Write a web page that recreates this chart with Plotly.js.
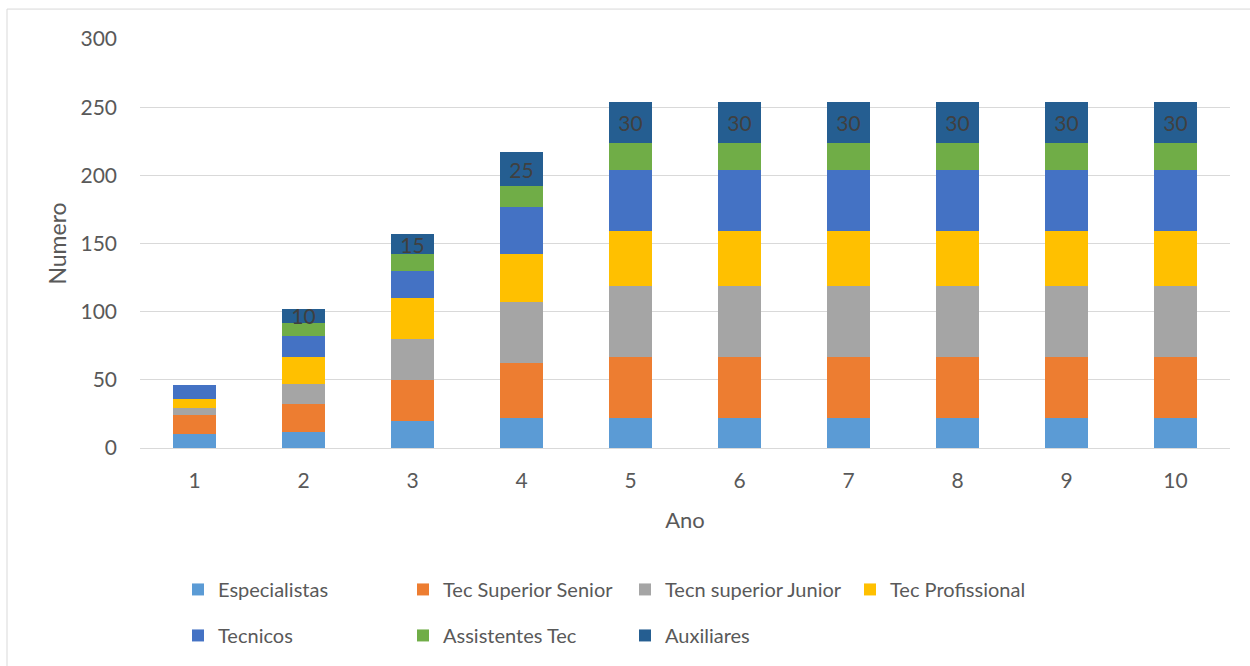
<!DOCTYPE html>
<html>
<head>
<meta charset="utf-8">
<script src="https://cdn.plot.ly/plotly-3.0.1.min.js"></script>
<style>html,body{margin:0;padding:0;background:#fff;}#chart{width:1250px;height:666px;}</style>
</head>
<body>
<div id="chart"></div>
<script>
const anos = ['1','2','3','4','5','6','7','8','9','10'];
const especialistas   = [10, 12, 20, 22, 22, 22, 22, 22, 22, 22];
const tecSupSenior    = [14, 20, 30, 40, 45, 45, 45, 45, 45, 45];
const tecnSupJunior   = [5, 15, 30, 45, 52, 52, 52, 52, 52, 52];
const tecProfissional = [7, 20, 30, 35, 40, 40, 40, 40, 40, 40];
const tecnicos        = [10, 15, 20, 35, 45, 45, 45, 45, 45, 45];
const assistentesTec  = [0, 10, 12, 15, 20, 20, 20, 20, 20, 20];
const auxiliares      = [0, 10, 15, 25, 30, 30, 30, 30, 30, 30];
const seriesNames = ['Especialistas','Tec Superior Senior','Tecn superior Junior','Tec Profissional','Tecnicos','Assistentes Tec','Auxiliares'];

const FONT = 'Lato, "Open Sans", sans-serif';
const colors = ['#5B9BD5','#ED7D31','#A5A5A5','#FFC000','#4472C4','#70AD47','#255E91'];
const data = [especialistas, tecSupSenior, tecnSupJunior, tecProfissional, tecnicos, assistentesTec, auxiliares];
const legendOf = ['legend','legend2','legend3','legend4','legend','legend2','legend3'];

const traces = data.map((vals, i) => {
  const t = {
    type: 'bar', name: seriesNames[i], x: anos, y: vals,
    marker: {color: colors[i], line: {width: 0}},
    legend: legendOf[i], legendgroup: 'g' + i,
    hoverinfo: 'x+y+name'
  };
  if (i === 6) {
    t.text = vals.map(v => v > 0 ? String(v) : '');
    t.textposition = 'inside';
    t.insidetextanchor = 'middle';
    t.textangle = 0;
    t.constraintext = 'none';
    t.textfont = {family: FONT, size: 21, color: '#404040'};
  }
  return t;
});

const legBase = {
  orientation: 'v', yanchor: 'top', xanchor: 'left', y: -0.295,
  font: {family: FONT, size: 20, color: '#595959'},
  bgcolor: 'rgba(0,0,0,0)', tracegroupgap: 17, itemwidth: 30
};
const paperX = px => (px - 140) / 1090;

const layout = {
  width: 1250, height: 666,
  margin: {l: 140, r: 20, t: 39, b: 217},
  paper_bgcolor: '#ffffff', plot_bgcolor: '#ffffff',
  barmode: 'stack', bargap: 0.6,
  font: {family: FONT, color: '#595959'},
  xaxis: {
    type: 'category', showgrid: false, zeroline: false,
    showline: false, ticks: '', ticklabelstandoff: 18,
    tickfont: {family: FONT, size: 21, color: '#595959'},
    title: {text: 'Ano', font: {family: FONT, size: 22, color: '#595959'}, standoff: 21}
  },
  yaxis: {
    range: [0, 300], dtick: 50, showgrid: true, gridcolor: '#d9d9d9', gridwidth: 1,
    zeroline: true, zerolinecolor: '#d9d9d9', zerolinewidth: 1,
    showline: false, ticks: '', ticklabelstandoff: 22,
    tickfont: {family: FONT, size: 21, color: '#595959'},
    title: {text: 'Numero', font: {family: FONT, size: 23, color: '#595959'}, standoff: 7}
  },
  legend:  Object.assign({}, legBase, {x: paperX(178)}),
  legend2: Object.assign({}, legBase, {x: paperX(403)}),
  legend3: Object.assign({}, legBase, {x: paperX(625)}),
  legend4: Object.assign({}, legBase, {x: paperX(850)}),
  shapes: [{
    type: 'rect', xref: 'paper', yref: 'paper',
    x0: (7 - 140) / 1090, x1: (1260 - 140) / 1090,
    y0: -(680 - 449) / 410, y1: (449 - 9) / 410,
    line: {color: '#d9d9d9', width: 1}, fillcolor: 'rgba(0,0,0,0)', layer: 'below'
  }],
  showlegend: true
};

Plotly.newPlot('chart', traces, layout, {displayModeBar: false, staticPlot: true});
</script>
</body>
</html>
